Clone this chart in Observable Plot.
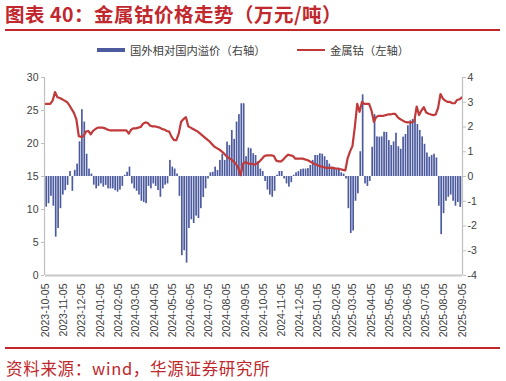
<!DOCTYPE html>
<html><head><meta charset="utf-8">
<script src="https://cdn.jsdelivr.net/npm/d3@7"></script>
<script src="https://cdn.jsdelivr.net/npm/@observablehq/plot@0.6"></script>
<style>
body{margin:0;width:506px;height:381px;background:#fff;position:relative;overflow:hidden;font-family:"Noto Sans CJK SC",sans-serif;}
#title{position:absolute;left:5px;top:1px;font-size:19.5px;font-weight:bold;color:#c0282d;white-space:nowrap;letter-spacing:0.5px;line-height:26px;}
.rule{position:absolute;left:5px;width:495px;height:2px;background:#c0282d;}
.lg{position:absolute;font-size:11.3px;color:#404040;white-space:nowrap;line-height:14px;}
.sw{position:absolute;}
#src{position:absolute;left:6px;top:357px;font-size:16.5px;color:#c0282d;white-space:nowrap;line-height:22px;letter-spacing:0.7px;}
#chart{position:absolute;left:0;top:60px;}
</style></head>
<body>
<div id="title">图表 40：金属钴价格走势（万元/吨）</div>
<div class="rule" style="top:29px"></div>
<div class="sw" style="left:97px;top:48px;width:28px;height:4px;background:#4c5a9e"></div>
<div class="lg" style="left:130px;top:43px">国外相对国内溢价（右轴）</div>
<div class="sw" style="left:297px;top:49px;width:28px;height:2px;background:#c0393b"></div>
<div class="lg" style="left:330px;top:43px">金属钴（左轴）</div>
<div id="chart"></div>
<div class="rule" style="top:347px"></div>
<div id="src">资料来源：wind，华源证券研究所</div>
<script>
const startDate = "2023-10-05";
const endDate = "2025-09-05";
const stepDays = 4;
const tickLabels = ["2023-10-05","2023-11-05","2023-12-05","2024-01-05","2024-02-05","2024-03-05","2024-04-05","2024-05-05","2024-06-05","2024-07-05","2024-08-05","2024-09-05","2024-10-05","2024-11-05","2024-12-05","2025-01-05","2025-02-05","2025-03-05","2025-04-05","2025-05-05","2025-06-05","2025-07-05","2025-08-05","2025-09-05"];
const leftTicks = [0,5,10,15,20,25,30];
const rightTicks = [-4,-3,-2,-1,0,1,2,3,4];
// 国外相对国内溢价（右轴, 万元/吨）
const premium = [
-1.24,-1.1,-0.8,-1.2,-2.45,-2.1,-1.3,-0.75,-0.57,-0.36,
0.2,-0.6,0.25,0.5,1.4,2.7,2.2,0.9,0.3,0.1,
-0.35,-0.5,-0.4,-0.3,-0.43,-0.36,-0.5,-0.5,-0.5,-0.57,
-0.63,-0.55,-0.4,0.05,0.17,0.38,-0.3,-0.5,-0.6,-0.75,
-1.0,-1.05,-1.1,-0.4,-0.5,-0.3,-0.4,-0.57,-0.84,-0.5,
-0.35,-0.3,0.65,0.38,0.3,0.1,-0.8,-3.2,-3.0,-3.5,
-2.1,-1.75,-1.9,-1.6,-1.7,-1.3,-0.85,-0.5,-0.1,0.15,
0.17,0.38,0.24,0.65,0.9,0.65,1.39,1.25,1.86,1.5,
2.2,2.5,2.94,2.94,0.8,1.15,1.12,0.92,0.85,0.6,
0.3,0.2,-0.2,-0.55,-0.75,-0.84,-0.6,0.05,0.2,0.2,
-0.1,-0.3,-0.43,-0.25,0.05,0.15,0.2,0.28,0.3,0.3,
0.32,0.45,0.65,0.85,0.85,0.92,0.9,0.8,0.65,0.5,
0.38,0.3,0.26,0.3,0.15,0.1,-0.1,-1.3,-2.3,-2.2,
-1.0,-0.7,1.0,3.3,-0.3,-0.4,-0.2,1.18,2.5,1.6,
1.59,1.6,1.79,1.78,1.45,1.25,1.4,1.75,1.2,1.1,
1.59,1.7,2.05,2.25,2.3,2.33,2.1,1.86,1.6,1.3,
0.95,0.78,0.85,0.9,0.75,-1.2,-2.35,-1.5,-1.0,-0.84,
-0.75,-1.0,-1.2,-1.05,-1.25,-1.1
];
// 金属钴（左轴, 万元/吨）
const cobalt = [
26.0,26.0,26.0,26.5,27.8,27.0,26.9,26.7,26.5,26.3,
25.8,25.2,24.6,23.6,21.1,21.0,21.1,21.8,21.9,21.4,
21.9,22.2,22.4,22.4,22.4,22.3,22.1,22.0,22.0,22.0,
22.0,22.0,22.0,22.0,22.0,21.5,22.1,22.3,22.3,22.4,
22.5,23.0,23.2,23.1,22.7,22.6,22.6,22.5,22.4,22.2,
22.1,21.9,21.8,21.0,20.5,20.5,21.5,23.3,23.7,24.0,
22.6,22.4,22.2,22.0,21.8,21.5,21.2,20.9,20.6,20.3,
19.9,19.5,19.3,19.1,18.8,18.5,18.1,17.8,17.6,17.3,
16.9,16.3,15.2,16.9,17.2,17.0,16.9,16.9,16.8,17.0,
17.3,17.7,18.1,18.2,18.2,18.2,18.1,17.4,17.3,17.3,
17.6,18.0,18.3,18.2,18.1,17.7,17.7,17.7,17.7,17.6,
17.5,17.3,17.1,16.9,16.8,16.6,16.5,16.4,16.3,16.3,
16.3,16.3,16.2,16.2,16.1,16.0,15.9,17.8,18.8,19.6,
22.5,26.0,24.8,26.3,26.0,26.0,26.0,25.0,23.3,24.0,
24.2,24.2,24.2,24.3,24.4,24.4,24.5,24.5,24.0,23.7,
23.5,23.3,23.2,23.2,23.2,23.4,25.6,24.3,25.0,25.5,
24.7,24.5,24.4,24.3,24.4,25.4,27.5,26.8,26.5,26.3,
26.3,26.1,26.1,26.6,26.7,27.0
];

const parse = d3.utcParse("%Y-%m-%d");
const t0 = parse(startDate), t1 = parse(endDate);
const dates = premium.map((_, i) => d3.utcDay.offset(t0, stepDays * i));
const barData = premium.map((v, i) => ({d: dates[i], d2: d3.utcDay.offset(dates[i], stepDays), v}));
const lineData = cobalt.map((v, i) => ({d: dates[i], v}));
const tickDates = tickLabels.map(parse);
// right axis (-4..4) mapped onto left axis (0..30)
const toLeft = r => 15 + r * 30 / 8;

const chart = Plot.plot({
  width: 506, height: 280,
  marginTop: 17, marginBottom: 65, marginLeft: 45, marginRight: 44,
  x: {type: "utc", domain: [t0, t1], label: null},
  y: {domain: [0, 30], label: null},
  style: {fontFamily: "'Liberation Sans', Arial, sans-serif", fontSize: "10.5px", color: "#404040", background: "#fff"},
  marks: [
    Plot.rectY(barData, {x1: "d", x2: "d2", y1: toLeft(0), y2: d => toLeft(d.v), fill: "#4c5a9e", insetLeft: 0.35, insetRight: 0.35, clip: true}),
    Plot.lineY(lineData, {x: "d", y: "v", stroke: "#c0393b", strokeWidth: 2.2, clip: true}),
    Plot.ruleX([t0], {stroke: "#bfbfbf", strokeWidth: 1.2, dx: -1}),
    Plot.ruleX([t1], {stroke: "#bfbfbf", strokeWidth: 1.2}),
    Plot.ruleY([0], {stroke: "#c8c8c8", strokeWidth: 2}),
    Plot.axisY(leftTicks, {anchor: "left", label: null, tickSize: 3, tickPadding: 3, stroke: "#bfbfbf", fill: "#404040", dx: -1, tickFormat: d => String(d)}),
    Plot.axisY(rightTicks.map(toLeft), {anchor: "right", label: null, tickSize: 3, tickPadding: 2, stroke: "#bfbfbf", fill: "#404040", tickFormat: d => String(Math.round((d - 15) * 8 / 30))}),
    Plot.axisX(tickDates, {anchor: "bottom", label: null, tickSize: 0, tickPadding: 8, tickRotate: -90, fill: "#404040", tickFormat: d3.utcFormat("%Y-%m-%d")})
  ]
});
document.getElementById("chart").appendChild(chart);
</script>
</body></html>
